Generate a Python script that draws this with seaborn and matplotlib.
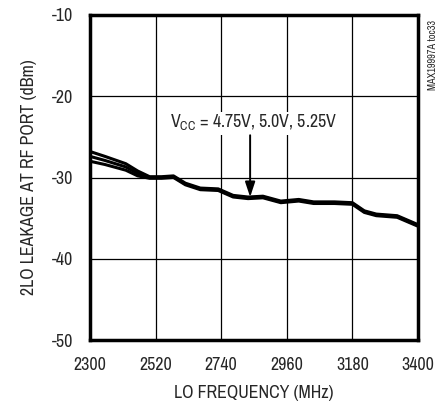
import matplotlib
matplotlib.use("Agg")
import matplotlib.pyplot as plt
import seaborn as sns
import pandas as pd

freq = [2300, 2350, 2420, 2460, 2500, 2540, 2580, 2620, 2670, 2730, 2780, 2830, 2880,
        2940, 3000, 3050, 3120, 3180, 3220, 3260, 3330, 3400]
v475 = [-26.8, -27.4, -28.3, -29.2, -29.9, -29.9, -29.8, -30.7, -31.3, -31.4, -32.2, -32.4, -32.3,
        -32.9, -32.7, -33.0, -33.0, -33.1, -34.1, -34.5, -34.7, -35.8]
v50 = [-27.4, -27.9, -28.7, -29.5, -30.0, -30.0, -29.9, -30.8, -31.4, -31.5, -32.3, -32.5, -32.4,
       -33.0, -32.8, -33.1, -33.1, -33.2, -34.2, -34.6, -34.8, -35.9]
v525 = [-28.0, -28.4, -29.1, -29.8, -30.1, -30.1, -30.0, -30.9, -31.5, -31.6, -32.4, -32.6, -32.5,
        -33.1, -32.9, -33.2, -33.2, -33.3, -34.3, -34.7, -34.9, -36.0]

xticks = [2300, 2520, 2740, 2960, 3180, 3400]
yticks = [-50, -40, -30, -20, -10]

df = pd.DataFrame({
    "freq": freq * 3,
    "val": v475 + v50 + v525,
    "vcc": ["4.75V"] * len(freq) + ["5.0V"] * len(freq) + ["5.25V"] * len(freq),
})

sns.set_style("white")
plt.rcParams["font.family"] = ["Pragati Narrow", "Archivo Narrow", "DejaVu Sans"]
FS = 14

fig = plt.figure(figsize=(4.42, 4.04), dpi=100)
ax = fig.add_axes([90 / 442, 64 / 404, 328 / 442, 325 / 404])

sns.lineplot(data=df, x="freq", y="val", hue="vcc", palette=["black"] * 3,
             linewidth=2.2, legend=False, ax=ax, estimator=None)

ax.set_xlim(2300, 3400)
ax.set_ylim(-50, -10)
ax.set_xticks(xticks)
ax.set_yticks(yticks)
ax.set_xticklabels([str(t) for t in xticks], fontsize=FS)
ax.set_yticklabels([str(t) for t in yticks], fontsize=FS)
ax.tick_params(axis="x", length=0, pad=12)
ax.tick_params(axis="y", length=0, pad=12)
ax.grid(True, color="black", linewidth=0.9)
ax.set_axisbelow(True)
for s in ax.spines.values():
    s.set_linewidth(2.5)
    s.set_color("black")
ax.set_xlabel("LO FREQUENCY (MHz)", fontsize=FS, labelpad=9)
ax.set_ylabel("2LO LEAKAGE AT RF PORT (dBm)", fontsize=FS, labelpad=11)

ax.text(2847, -23.3, r"V$_{\mathregular{CC}}$ = 4.75V, 5.0V, 5.25V", ha="center", va="center",
        fontsize=FS, bbox=dict(facecolor="white", edgecolor="none", pad=1))
ax.annotate("", xy=(2837, -32.4), xytext=(2837, -24.8),
            arrowprops=dict(arrowstyle="-|>,head_length=0.9,head_width=0.3", color="black",
                            lw=1.4, shrinkA=0, shrinkB=0))

fig.text(433 / 442, 1 - 55 / 404, "MAX19997A toc33", rotation=90, ha="center", va="center",
         fontsize=8)

fig.savefig("out.png", dpi=100)
